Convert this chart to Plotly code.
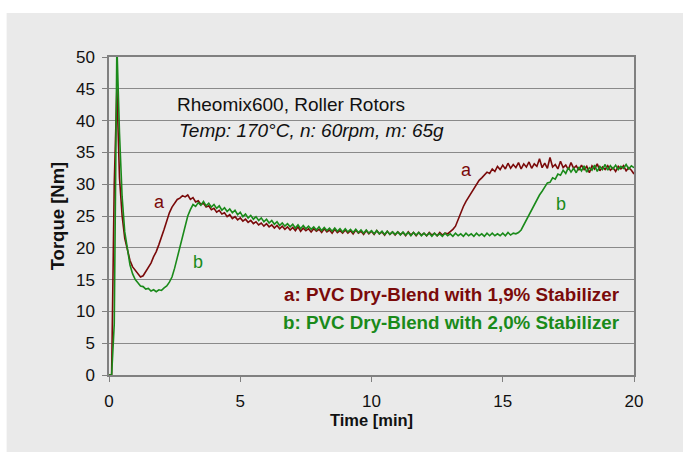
import numpy as np
import plotly.graph_objects as go

# sample times (min), 0.1 min step
time_min = [round(0.1 * i, 1) for i in range(201)]

torque_a = [
    0, 0, 30, 45, 31, 25, 21.5, 19.5, 18, 17,
    16.4, 15.9, 15.4, 15.6, 16.2, 16.8, 17.6, 18.6, 19.4, 20.5,
    21.6, 22.9, 24.2, 25.5, 26.4, 27.0, 27.6, 27.8, 28.2, 28.0,
    28.3, 27.6, 27.9, 27.2, 27.4, 26.8, 27.0, 26.4, 26.6, 26.0,
    26.2, 25.6, 25.9, 25.3, 25.5, 24.9, 25.2, 24.6, 24.9, 24.4,
    24.7, 24.2, 24.5, 24.0, 24.3, 23.8, 24.1, 23.6, 23.9, 23.4,
    23.8, 23.3, 23.6, 23.1, 23.5, 23.0, 23.4, 22.9, 23.3, 22.8,
    23.2, 22.7, 23.3, 22.6, 23.1, 22.7, 23.0, 22.5, 23.0, 22.6,
    22.9, 22.4, 23.0, 22.5, 22.8, 22.3, 22.9, 22.4, 22.7, 22.3,
    22.8, 22.3, 22.7, 22.2, 22.8, 22.3, 22.6, 22.1, 22.7, 22.2,
    22.6, 22.1, 22.7, 22.2, 22.5, 22.0, 22.6, 22.1, 22.5, 22.0,
    22.5, 22.1, 22.4, 21.9, 22.5, 22.0, 22.4, 21.9, 22.4, 22.0,
    22.3, 21.9, 22.4, 22.0, 22.3, 21.9, 22.4, 22.0, 22.3, 22.2,
    22.5, 22.9, 23.4, 24.5, 25.6, 26.5, 27.3, 28.0, 28.6, 29.3,
    29.9, 30.6, 31.0, 31.5, 31.9, 31.7, 32.4, 32.0, 32.8, 32.3,
    33.0, 32.4, 33.3, 32.5, 33.1, 32.6, 33.4, 32.4, 33.2, 32.7,
    33.5, 32.5, 33.2, 32.8, 34.0, 32.6, 33.3, 32.5, 34.2, 32.7,
    33.1, 32.4, 33.6, 32.6, 33.0, 32.3, 33.4, 32.5, 32.9, 32.2,
    33.0, 32.3, 32.8, 31.8, 32.9, 32.4, 33.2, 32.1, 32.7, 32.3,
    32.9, 32.2, 32.6, 32.0, 32.8, 32.4, 32.9, 32.1, 32.6, 32.2,
    31.6,
]

torque_b = [
    0, 0, 8, 52, 38, 28, 22.5, 19.5, 17.3, 15.9,
    15.0, 14.5, 14.0, 13.9, 13.5, 13.6, 13.2, 13.4, 13.1, 13.4,
    13.3, 13.7, 14.0, 14.6, 15.4, 16.8, 18.5, 20.2, 22.0, 23.6,
    25.0, 26.0, 26.8, 26.5, 27.1, 26.7, 27.3, 26.6, 27.0, 26.4,
    26.8, 26.2, 26.6, 25.9, 26.3, 25.7, 26.1, 25.5, 25.9, 25.2,
    25.6, 24.9, 25.3, 24.7, 25.1, 24.5, 24.9, 24.3, 24.7, 24.1,
    24.5, 23.9, 24.3, 23.7, 24.1, 23.5, 23.9, 23.4, 23.8, 23.3,
    23.7, 23.1, 23.6, 23.0, 23.5, 23.0, 23.4, 22.9, 23.3, 22.8,
    23.3, 22.7, 23.2, 22.7, 23.1, 22.6, 23.1, 22.6, 23.0, 22.5,
    23.0, 22.5, 22.9, 22.4, 22.9, 22.4, 22.8, 22.3, 22.8, 22.3,
    22.7, 22.2, 22.7, 22.2, 22.6, 22.1, 22.6, 22.1, 22.5, 22.1,
    22.5, 22.0, 22.5, 22.0, 22.4, 21.9, 22.4, 22.0, 22.4, 21.9,
    22.3, 21.9, 22.3, 21.8, 22.3, 21.9, 22.2, 21.8, 22.3, 21.9,
    22.2, 21.8, 22.3, 21.9, 22.2, 21.8, 22.3, 21.9, 22.2, 21.8,
    22.3, 21.9, 22.2, 21.8, 22.3, 21.9, 22.3, 21.9, 22.2, 21.9,
    22.3, 21.9, 22.4, 22.0, 22.3, 22.2, 22.4, 22.8, 23.6, 24.5,
    25.3, 26.1, 26.9, 27.5, 28.3, 28.9, 29.6, 30.2, 30.3, 31.0,
    30.8, 31.6, 31.4, 32.2, 31.7, 32.6, 31.9, 32.5, 31.8, 32.7,
    32.1, 32.9, 31.9, 32.6, 32.2, 33.0, 32.0, 32.8, 32.3, 33.1,
    32.2, 32.9, 32.4, 33.0, 32.3, 32.8, 32.5, 33.1, 32.4, 32.9,
    32.6,
]

x_ticks = [0, 5, 10, 15, 20]
y_ticks = [0, 5, 10, 15, 20, 25, 30, 35, 40, 45, 50]

RED = "#7a0a0a"
GREEN = "#1a8a1a"
FONT = "Liberation Sans, Arial, sans-serif"

fig = go.Figure()
fig.add_trace(go.Scatter(x=time_min, y=torque_a, mode="lines",
                         line=dict(color=RED, width=1.6), showlegend=False))
fig.add_trace(go.Scatter(x=time_min, y=torque_b, mode="lines",
                         line=dict(color=GREEN, width=1.6), showlegend=False))

# gray frame background
fig.add_shape(type="rect", xref="paper", yref="paper",
              x0=-0.195, x1=1.1, y0=-0.25, y1=1.1384,
              fillcolor="#eaeaea", line=dict(width=0), layer="below")

ann = [
    dict(x=2.52, y=42.6, text="Rheomix600, Roller Rotors", color="#111111", size=19, xanchor="left"),
    dict(x=2.6, y=38.4, text="<i>Temp: 170°C, n: 60rpm, m: 65g</i>", color="#111111", size=19, xanchor="left"),
    dict(x=1.91, y=27.2, text="a", color=RED, size=18, xanchor="center"),
    dict(x=3.4, y=17.8, text="b", color=GREEN, size=18, xanchor="center"),
    dict(x=13.63, y=32.2, text="a", color=RED, size=18, xanchor="center"),
    dict(x=17.2, y=26.9, text="b", color=GREEN, size=18, xanchor="center"),
    dict(x=19.54, y=12.6, text="<b>a: PVC Dry-Blend with 1,9% Stabilizer</b>", color=RED, size=18.8, xanchor="right"),
    dict(x=19.54, y=8.3, text="<b>b: PVC Dry-Blend with 2,0% Stabilizer</b>", color=GREEN, size=18.8, xanchor="right"),
]
for a in ann:
    fig.add_annotation(x=a["x"], y=a["y"], text=a["text"], showarrow=False,
                       xanchor=a["xanchor"], yanchor="middle",
                       font=dict(family=FONT, size=a["size"], color=a["color"]))

fig.update_layout(
    width=683, height=452,
    margin=dict(l=109, r=49, t=57, b=77),
    paper_bgcolor="white", plot_bgcolor="#eaeaea",
    font=dict(family=FONT, size=17, color="#111111"),
    xaxis=dict(range=[0, 20], tickvals=x_ticks, showgrid=False, zeroline=False,
               showline=True, linecolor="#808080", linewidth=1.5, mirror=True,
               ticks="outside", ticklen=5, tickcolor="#808080",
               ticklabelstandoff=5,
               title=dict(text="<b>Time [min]</b>", font=dict(size=16.5), standoff=3)),
    yaxis=dict(range=[0, 50], tickvals=y_ticks, showgrid=True, gridcolor="#8a8a8a",
               gridwidth=1, zeroline=False,
               showline=True, linecolor="#808080", linewidth=1.5, mirror=True,
               ticks="outside", ticklen=5, tickcolor="#808080",
               ticklabelstandoff=4,
               title=dict(text="<b>Torque [Nm]</b>", font=dict(size=18.5), standoff=6)),
)

fig.write_html("out.html")
